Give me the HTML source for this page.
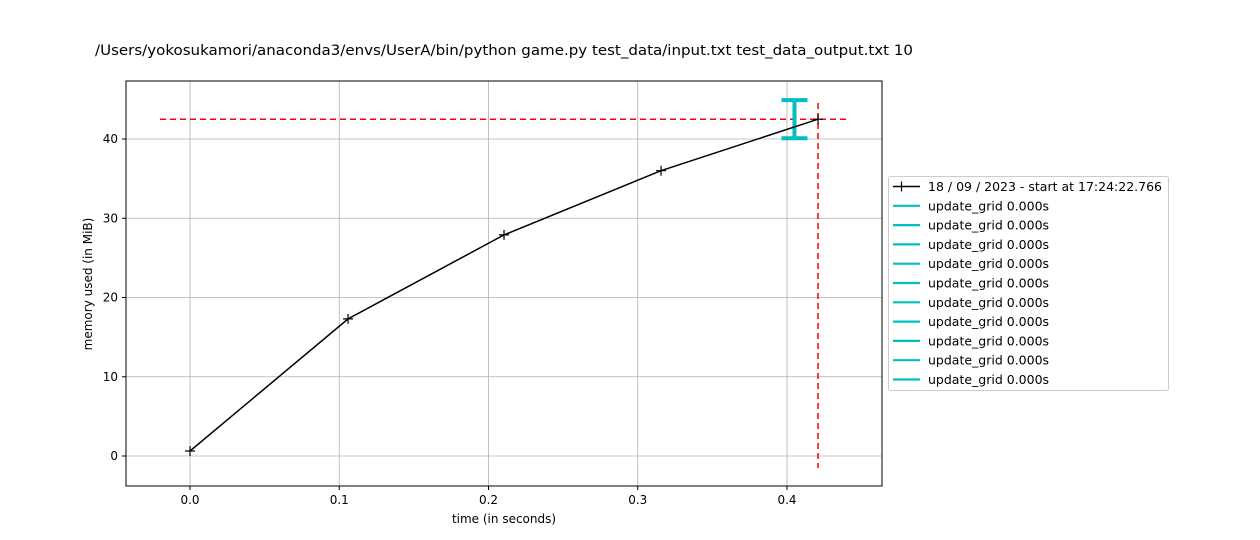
<!DOCTYPE html>
<html><head><meta charset="utf-8"><style>body{margin:0;background:#fff}svg{display:block;font-family:"DejaVu Sans","Liberation Sans",sans-serif}</style></head>
<body>
<svg id="chart" width="1260" height="540">
<rect x="0" y="0" width="1260" height="540" fill="#fff"/>
<text x="95" y="55" font-size="14.5" textLength="818" lengthAdjust="spacingAndGlyphs">/Users/yokosukamori/anaconda3/envs/UserA/bin/python game.py test_data/input.txt test_data_output.txt 10</text>
<g id="grid"></g>
<g id="plot"></g>
<rect x="126" y="81" width="756" height="405" fill="none" stroke="#000" stroke-width="1"/>
<g id="ticks"></g>
<text x="504" y="523" text-anchor="middle" font-size="12">time (in seconds)</text>
<text transform="translate(92,284) rotate(-90)" text-anchor="middle" font-size="12">memory used (in MiB)</text>
<g id="legend">
<rect x="888.5" y="176.5" width="280" height="214" fill="#fff" stroke="#ccc" rx="2"/>
</g>
</svg>
<script>
const times=[0,0.1059,0.2104,0.3156,0.4208];
const mem=[0.63,17.3,27.9,36.0,42.5];
const xTicks=[0,0.1,0.2,0.3,0.4];
const xTickLabels=["0.0","0.1","0.2","0.3","0.4"];
const yTicks=[0,10,20,30,40];
const bracketRange=[40.1,44.9];
const bracketTime=[0.405];
const legendLabels=["18 / 09 / 2023 - start at 17:24:22.766","update_grid 0.000s","update_grid 0.000s","update_grid 0.000s","update_grid 0.000s","update_grid 0.000s","update_grid 0.000s","update_grid 0.000s","update_grid 0.000s","update_grid 0.000s","update_grid 0.000s"];
const NS="http://www.w3.org/2000/svg";
const X=v=>190+v*1492.5, Y=v=>456-v*7.925;
function mk(p,t,a){const e=document.createElementNS(NS,t);for(const k in a)e.setAttribute(k,a[k]);p.appendChild(e);return e;}
const grid=document.getElementById('grid'),plot=document.getElementById('plot'),ticks=document.getElementById('ticks'),leg=document.getElementById('legend');
xTicks.forEach((t,i)=>{
 const g=mk(grid,'line',{x1:X(t),x2:X(t),y1:81,y2:486,stroke:'#b0b0b0','stroke-width':0.8});
 
 
 const tk=mk(ticks,'line',{x1:X(t),x2:X(t),y1:486,y2:490,stroke:'#000'});
 
 
 const tx=mk(ticks,'text',{x:X(t),y:504,'text-anchor':'middle','font-size':12});tx.textContent=xTickLabels[i];
 
 
});
yTicks.forEach(t=>{
 const g=mk(grid,'line',{x1:126,x2:882,y1:Y(t),y2:Y(t),stroke:'#b0b0b0','stroke-width':0.8});
 
 
 const tk=mk(ticks,'line',{x1:122,x2:126,y1:Y(t),y2:Y(t),stroke:'#000'});
 
 
 const tx=mk(ticks,'text',{x:118,y:Y(t)+4,'text-anchor':'end','font-size':12});tx.textContent=t;
 
 
});
const last=mem.length-1;
const hl=mk(plot,'line',{x1:160,x2:848,y1:Y(mem[last]),y2:Y(mem[last]),stroke:'#f00','stroke-width':1.5,'stroke-dasharray':'6,4'});


const vl=mk(plot,'line',{x1:X(times[last]),x2:X(times[last]),y1:103,y2:468,stroke:'#f00','stroke-width':1.5,'stroke-dasharray':'6,4'});


const bx=X(bracketTime[0]);
const br=mk(plot,'path',{d:`M${bx-13},${Y(bracketRange[1])}H${bx+13}M${bx},${Y(bracketRange[1])}V${Y(bracketRange[0])}M${bx-13},${Y(bracketRange[0])}H${bx+13}`,stroke:'#00bfbf','stroke-width':4,fill:'none'});


const line=mk(plot,'polyline',{points:times.map((t,i)=>X(t)+','+Y(mem[i])).join(' '),fill:'none',stroke:'#000','stroke-width':1.5});


times.forEach((t,i)=>{
 const m=mk(plot,'path',{d:`M${X(t)-5},${Y(mem[i])}h10M${X(t)},${Y(mem[i])-5}v10`,stroke:'#000','stroke-width':1.2});
 
 
});
legendLabels.forEach((l,i)=>{
 const y=186.5+i*19.3;
 const c=i===0?'#000':'#00bfbf';
 const s=mk(leg,'line',{x1:893,x2:920,y1:y,y2:y,stroke:c,'stroke-width':i===0?1.5:2.2});
 
 
 if(i===0){const p=mk(leg,'path',{d:`M901.5,${y-5}v10`,stroke:'#000','stroke-width':1.2});}
 const t=mk(leg,'text',{x:928,y:y+4.5,'font-size':12.5});t.textContent=l;
 
 
});
</script>
</body></html>
